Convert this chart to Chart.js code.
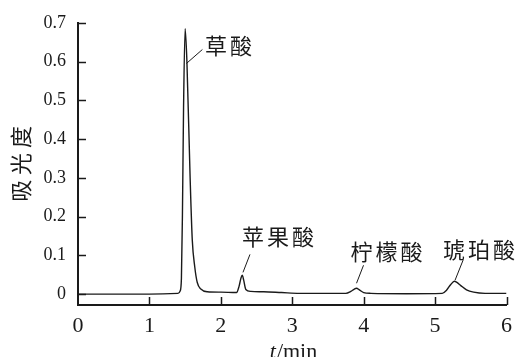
<!DOCTYPE html>
<html>
<head>
<meta charset="utf-8">
<script src="https://cdn.jsdelivr.net/npm/chart.js@4"></script>
<style>
  html, body { margin: 0; padding: 0; background: #fff; }
  #wrap { width: 520px; height: 357px; }
</style>
</head>
<body>
<div id="wrap"><canvas id="chroma"></canvas></div>
<script>
// retention time (min) and absorbance
const timeMin = [0, 1.00, 1.40, 1.43, 1.448, 1.462, 1.478, 1.50, 1.525, 1.57, 1.60, 1.635, 1.67, 1.72, 1.81, 2.00, 2.22, 2.255, 2.28, 2.30, 2.32, 2.35, 2.42, 2.60, 2.85, 3.10, 3.75, 3.82, 3.87, 3.90, 3.94, 4.00, 4.10, 4.60, 5.10, 5.16, 5.22, 5.27, 5.30, 5.36, 5.44, 5.54, 5.70, 6.00];
const absorbance = [0, 0, 0.002, 0.008, 0.04, 0.2, 0.48, 0.685, 0.60, 0.30, 0.14, 0.07, 0.03, 0.013, 0.006, 0.005, 0.004, 0.02, 0.040, 0.049, 0.036, 0.012, 0.007, 0.006, 0.004, 0.002, 0.002, 0.007, 0.013, 0.015, 0.011, 0.004, 0.002, 0.001, 0.002, 0.010, 0.025, 0.033, 0.031, 0.022, 0.011, 0.005, 0.002, 0.002];

const xTicks = [0, 1, 2, 3, 4, 5, 6];
const yTicks = [0, 0.1, 0.2, 0.3, 0.4, 0.5, 0.6, 0.7];

const peakNames = ['草酸', '苹果酸', '柠檬酸', '琥珀酸'];
const peakTimes = [1.518, 2.31, 3.90, 5.28];
const peakLevels = [0.595, 0.056, 0.028, 0.036];

const serif = '"Liberation Serif", "Times New Roman", serif';
const cjk = '"Noto Sans CJK SC", sans-serif';

// leader line end (dx, dy) and text centre offset from leader end, in px
const leaderOffsets = [[16, -14], [7, -18], [7, -18], [8, -20]];
const textOffsets = [[26, -4], [28, -18], [23, -14], [16, -11]];

const decor = {
  id: 'decor',
  afterDraw(chart) {
    const ctx = chart.ctx;
    const x = chart.scales.x, y = chart.scales.y;
    ctx.save();
    ctx.strokeStyle = '#1a1a1a';
    ctx.lineWidth = 1.5;
    // inward ticks
    xTicks.forEach(v => {
      if (v === 0) return;
      const px = Math.round(x.getPixelForValue(v)) + 0.5;
      ctx.beginPath();
      ctx.moveTo(px, y.bottom);
      ctx.lineTo(px, y.bottom - 8);
      ctx.stroke();
    });
    yTicks.forEach(v => {
      const py = Math.round(y.getPixelForValue(v)) + 0.5;
      ctx.beginPath();
      ctx.moveTo(x.left, py);
      ctx.lineTo(x.left + 8, py);
      ctx.stroke();
    });

    // peak labels with leader lines
    ctx.lineWidth = 1;
    ctx.fillStyle = '#1a1a1a';
    ctx.font = '22px ' + cjk;
    ctx.textAlign = 'center';
    ctx.textBaseline = 'middle';
    peakNames.forEach((name, i) => {
      const px = x.getPixelForValue(peakTimes[i]);
      const py = y.getPixelForValue(peakLevels[i]);
      const ex = px + leaderOffsets[i][0], ey = py + leaderOffsets[i][1];
      ctx.beginPath();
      ctx.moveTo(px, py);
      ctx.lineTo(ex, ey);
      ctx.stroke();
      const cx = ex + textOffsets[i][0], cy = ey + textOffsets[i][1];
      const pitch = 25;
      const chars = [...name];
      chars.forEach((ch, k) => {
        ctx.fillText(ch, cx + (k - (chars.length - 1) / 2) * pitch, cy);
      });
    });

    // x axis title: italic t / min
    ctx.textAlign = 'left';
    ctx.textBaseline = 'alphabetic';
    ctx.font = 'italic 22px ' + serif;
    const tw = ctx.measureText('t').width;
    ctx.font = '22px ' + serif;
    const mw = ctx.measureText('/min').width;
    const sx = 293 - (tw + mw) / 2;
    ctx.font = 'italic 22px ' + serif;
    ctx.fillText('t', sx, 358);
    ctx.font = '22px ' + serif;
    ctx.fillText('/min', sx + tw + 1, 358);
    ctx.restore();
  }
};

new Chart(document.getElementById('chroma'), {
  type: 'line',
  data: {
    datasets: [{
      data: timeMin.map((t, i) => ({ x: t, y: absorbance[i] })),
      borderColor: '#1a1a1a',
      borderWidth: 1.4,
      pointRadius: 0,
      fill: false,
      cubicInterpolationMode: 'monotone'
    }]
  },
  options: {
    responsive: true,
    maintainAspectRatio: false,
    animation: false,
    layout: { padding: { top: 20, right: 11, left: 0, bottom: 0 } },
    plugins: {
      legend: { display: false },
      tooltip: { enabled: false }
    },
    scales: {
      x: {
        type: 'linear',
        min: 0,
        max: 6,
        afterBuildTicks: s => { s.ticks = xTicks.map(v => ({ value: v })); },
        afterFit: s => { s.height = 52; },
        grid: { display: false, drawTicks: false },
        border: { display: true, color: '#1a1a1a', width: 2 },
        ticks: {
          color: '#1a1a1a',
          padding: 8,
          maxRotation: 0,
          font: { family: serif, size: 22 }
        }
      },
      y: {
        min: -0.0281,
        max: 0.7,
        afterBuildTicks: s => { s.ticks = yTicks.map(v => ({ value: v })); },
        afterFit: s => { s.width = 78; },
        grid: { display: false, drawTicks: false },
        border: { display: true, color: '#1a1a1a', width: 2 },
        ticks: {
          color: '#1a1a1a',
          padding: 12,
          font: { family: serif, size: 18 },
          callback: v => (v === 0 ? '0' : v.toFixed(1))
        },
        title: {
          display: true,
          text: '吸 光 度',
          color: '#1a1a1a',
          font: { family: cjk, size: 22 },
          padding: { top: 7, bottom: 0 }
        }
      }
    }
  },
  plugins: [decor]
});
</script>
</body>
</html>
